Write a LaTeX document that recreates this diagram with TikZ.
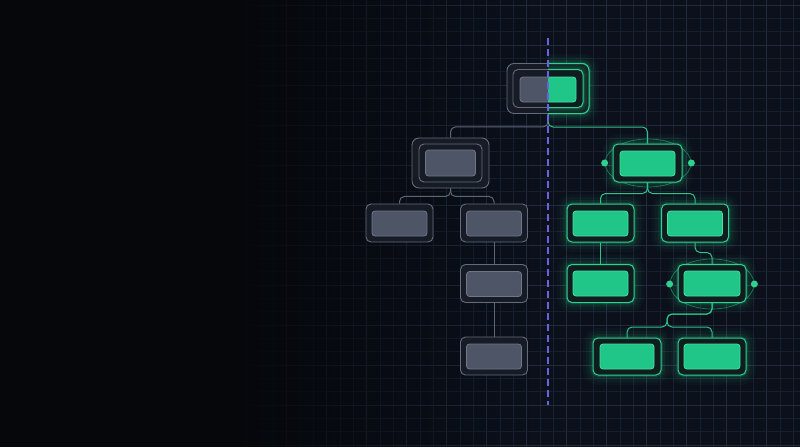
\documentclass[tikz,border=0pt]{standalone}
\usetikzlibrary{fadings,shapes.geometric}
\definecolor{bgR}{HTML}{0B101B}
\definecolor{bgL}{HTML}{05070B}
\definecolor{gridmin}{HTML}{182030}
\definecolor{gridmaj}{HTML}{232C3E}
\definecolor{dashc}{HTML}{6A62E2}
\definecolor{gyStroke}{HTML}{646B7C}
\definecolor{gyFrame}{HTML}{161B25}
\definecolor{gyInner}{HTML}{4D5567}
\definecolor{gyInStroke}{HTML}{6E7688}
\definecolor{gyConn}{HTML}{5E6575}
\definecolor{grStroke}{HTML}{2FD190}
\definecolor{grFrame}{HTML}{0F1D1E}
\definecolor{grInner}{HTML}{1FC688}
\definecolor{grInStroke}{HTML}{48DFA3}
\definecolor{grConn}{HTML}{2DC489}
\tikzfading[name=leftdark, left color=transparent!0, right color=transparent!100]
\begin{document}
\begin{tikzpicture}[x=1pt,y=-1pt,
  gyframe/.style={draw=gyStroke, fill=gyFrame, rounded corners=5pt, line width=0.9pt,
    inner sep=0pt, minimum width=67pt, minimum height=38pt},
  gyinner/.style={draw=gyInStroke, fill=gyInner, rounded corners=3pt, line width=0.8pt,
    inner sep=0pt, minimum width=55pt, minimum height=25pt},
  glow/.style={preaction={draw=grStroke, line width=20pt, opacity=0.03},
    preaction={draw=grStroke, line width=14pt, opacity=0.05},
    preaction={draw=grStroke, line width=8pt, opacity=0.08},
    preaction={draw=grStroke, line width=3.5pt, opacity=0.15}},
  grframe/.style={glow, draw=grStroke, fill=grFrame, rounded corners=5pt, line width=1pt,
    inner sep=0pt, minimum width=67pt, minimum height=38pt},
  grinner/.style={draw=grInStroke, fill=grInner, rounded corners=3pt, line width=0.8pt,
    inner sep=0pt, minimum width=55pt, minimum height=25pt},
  gyconn/.style={draw=gyConn, line width=1pt, rounded corners=5pt},
  grconn/.style={draw=grConn, line width=1pt, rounded corners=5pt},
  orbit/.style={ellipse, draw=grStroke!55!black, line width=0.7pt, inner sep=0pt},
  orbdot/.style={circle, fill=grStroke, inner sep=0pt, minimum size=7pt}
]
\useasboundingbox (0,0) rectangle (800,447);
% background
\fill[bgR] (0,0) rectangle (800,447);
\foreach \i in {0,...,60} {
  \pgfmathtruncatemacro{\m}{mod(\i,3)}
  \ifnum\m=0
    \draw[gridmaj, line width=0.7pt] ({6.67+\i*13.333},0) -- ++(0,447);
  \else
    \draw[gridmin, line width=0.5pt] ({6.67+\i*13.333},0) -- ++(0,447);
  \fi
}
\foreach \j in {0,...,34} {
  \pgfmathtruncatemacro{\m}{mod(\j,3)}
  \ifnum\m=0
    \draw[gridmaj, line width=0.7pt] (0,{5+\j*13.333}) -- ++(800,0);
  \else
    \draw[gridmin, line width=0.5pt] (0,{5+\j*13.333}) -- ++(800,0);
  \fi
}
\fill[bgL] (0,0) rectangle (230,447);
\fill[bgL, path fading=leftdark] (229,0) rectangle (530,447);

% ---------- root (split) ----------
\node[gyframe, minimum width=82pt, minimum height=50pt, rounded corners=7pt] (root) at (548,88.5) {};
\node[gyframe, minimum width=70pt, minimum height=38pt] (rootm) at (548,88.5) {};
\node[gyinner, minimum width=56pt, minimum height=25pt] (rooti) at (548,89.5) {};
\begin{scope}
  \clip (548,40) rectangle (620,140);
  \node[grframe, minimum width=82pt, minimum height=50pt, rounded corners=7pt] (rootg) at (548,88.5) {};
  \node[grframe, minimum width=70pt, minimum height=38pt] (rootgm) at (548,88.5) {};
  \node[grinner, minimum width=56pt, minimum height=25pt] (rootgi) at (548,89.5) {};
\end{scope}

% ---------- gray side ----------
\node[gyframe, minimum width=77pt, minimum height=50pt, rounded corners=7pt] (l1) at (450.5,163) {};
\node[gyframe, minimum width=63pt, minimum height=38pt] (l1m) at (450.5,163) {};
\node[gyinner, minimum width=50pt, minimum height=26pt] (l1i) at (450.5,163) {};

\node[gyframe] (ll) at (399.5,223) {};
\node[gyinner] (lli) at (399.5,223.5) {};
\node[gyframe] (lr) at (494,223) {};
\node[gyinner] (lri) at (494,223.5) {};
\node[gyframe] (l3) at (494,283.5) {};
\node[gyinner] (l3i) at (494,284) {};
\node[gyframe] (l4) at (494,356) {};
\node[gyinner] (l4i) at (494,356.5) {};

\draw[gyconn] (root.south) -- ++(0,13) -| (l1.north);
\draw[gyconn] (l1.south) -- ++(0,8) -| (ll.north);
\draw[gyconn] (l1.south) -- ++(0,8) -| (lr.north);
\draw[gyconn] (lr.south) -- (l3.north);
\draw[gyconn] (l3.south) -- (l4.north);

% ---------- green side ----------
\node[orbit, minimum width=86pt, minimum height=48pt] (e1) at (648,163) {};
\node[orbit, minimum width=84pt, minimum height=50pt] (e2) at (712,284) {};

\node[grframe, minimum width=69pt] (r1) at (647.5,163) {};
\node[grinner] (r1i) at (647.5,163.5) {};
\node[grframe] (rl) at (600.5,223) {};
\node[grinner] (rli) at (600.5,223.5) {};
\node[grframe] (rr) at (695,223) {};
\node[grinner] (rri) at (695,223.5) {};
\node[grframe] (rll) at (600.5,283.5) {};
\node[grinner] (rlli) at (600.5,283.5) {};
\node[grframe, minimum width=68pt] (r2) at (712,283.5) {};
\node[grinner, minimum width=56pt] (r2i) at (712,283.5) {};
\node[grframe, minimum width=68pt, minimum height=37pt] (bl) at (627,356.5) {};
\node[grinner, minimum width=54pt] (bli) at (627,356.5) {};
\node[grframe, minimum width=68pt, minimum height=37pt] (br) at (712,356.5) {};
\node[grinner, minimum width=56pt] (bri) at (712,356.5) {};

\node[orbdot] (d1a) at (e1.west) {};
\node[orbdot] (d1b) at (e1.east) {};
\node[orbdot] (d2a) at (e2.west) {};
\node[orbdot] (d2b) at (e2.east) {};

\coordinate (j2) at (667,327);
\draw[grconn] (rootg.south) -- ++(0,13) -| (r1.north);
\draw[grconn] (r1.south) -- ++(0,11) -| (rl.north);
\draw[grconn] (r1.south) -- ++(0,11) -| (rr.north);
\draw[grconn] (rl.south) -- (rll.north);
\draw[grconn] (rr.south) -- ++(0,10) -| (r2.north);
\draw[grconn] (r2.south) -- ++(0,11) -| (j2) -| (bl.north);
\draw[grconn] (r2.south) -- ++(0,11) -| (j2) -| (br.north);

% ---------- divider ----------
\coordinate (dtop) at (548,38);
\coordinate (dbot) at (548,405);
\draw[dashc, line width=1.6pt, dash pattern=on 7pt off 4pt] (dtop) -- (dbot);
\end{tikzpicture}
\end{document}
